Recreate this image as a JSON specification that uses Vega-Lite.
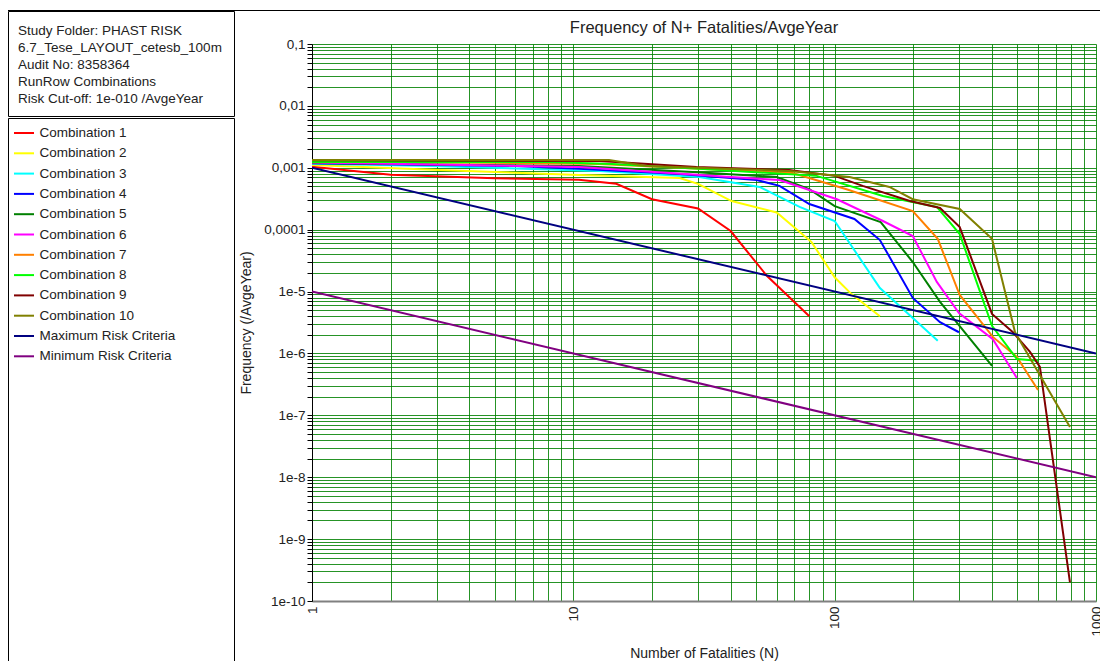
{
  "$schema": "https://vega.github.io/schema/vega-lite/v6.json",
  "padding": {"left": 7, "top": 10, "right": 0, "bottom": 0},
  "config": {
    "font": "Liberation Sans",
    "view": {"stroke": null}
  },
  "datasets": {
    "fn": [
      {"s": "Combination 1", "n": 1, "f": 1.04e-3},
      {"s": "Combination 1", "n": 2, "f": 7.7e-4},
      {"s": "Combination 1", "n": 5, "f": 6.8e-4},
      {"s": "Combination 1", "n": 10.5, "f": 6.4e-4},
      {"s": "Combination 1", "n": 14.6, "f": 5.5e-4},
      {"s": "Combination 1", "n": 20, "f": 3.1e-4},
      {"s": "Combination 1", "n": 30, "f": 2.2e-4},
      {"s": "Combination 1", "n": 40, "f": 9.5e-5},
      {"s": "Combination 1", "n": 55, "f": 1.8e-5},
      {"s": "Combination 1", "n": 80, "f": 4.0e-6},
      {"s": "Combination 2", "n": 1, "f": 1.11e-3},
      {"s": "Combination 2", "n": 3.07, "f": 9.2e-4},
      {"s": "Combination 2", "n": 10.5, "f": 7.65e-4},
      {"s": "Combination 2", "n": 25.5, "f": 6.85e-4},
      {"s": "Combination 2", "n": 30, "f": 5.5e-4},
      {"s": "Combination 2", "n": 40.3, "f": 2.9e-4},
      {"s": "Combination 2", "n": 60, "f": 1.9e-4},
      {"s": "Combination 2", "n": 81.6, "f": 6.3e-5},
      {"s": "Combination 2", "n": 100, "f": 1.7e-5},
      {"s": "Combination 2", "n": 116, "f": 9.1e-6},
      {"s": "Combination 2", "n": 149, "f": 4.0e-6},
      {"s": "Combination 3", "n": 1, "f": 1.16e-3},
      {"s": "Combination 3", "n": 2.88, "f": 1.07e-3},
      {"s": "Combination 3", "n": 12.6, "f": 8.9e-4},
      {"s": "Combination 3", "n": 30.3, "f": 7.1e-4},
      {"s": "Combination 3", "n": 51.6, "f": 4.9e-4},
      {"s": "Combination 3", "n": 73.4, "f": 2.33e-4},
      {"s": "Combination 3", "n": 100, "f": 1.38e-4},
      {"s": "Combination 3", "n": 149, "f": 1.14e-5},
      {"s": "Combination 3", "n": 248, "f": 1.6e-6},
      {"s": "Combination 4", "n": 1, "f": 1.18e-3},
      {"s": "Combination 4", "n": 6.05, "f": 1.07e-3},
      {"s": "Combination 4", "n": 10.5, "f": 9.6e-4},
      {"s": "Combination 4", "n": 25.5, "f": 7.9e-4},
      {"s": "Combination 4", "n": 50.3, "f": 6.35e-4},
      {"s": "Combination 4", "n": 61.5, "f": 5.1e-4},
      {"s": "Combination 4", "n": 80, "f": 2.6e-4},
      {"s": "Combination 4", "n": 119, "f": 1.49e-4},
      {"s": "Combination 4", "n": 149, "f": 6.8e-5},
      {"s": "Combination 4", "n": 199, "f": 7.9e-6},
      {"s": "Combination 4", "n": 253, "f": 3.2e-6},
      {"s": "Combination 4", "n": 299, "f": 2.2e-6},
      {"s": "Combination 5", "n": 1, "f": 1.2e-3},
      {"s": "Combination 5", "n": 10.5, "f": 1.07e-3},
      {"s": "Combination 5", "n": 28.6, "f": 8.55e-4},
      {"s": "Combination 5", "n": 60, "f": 7.1e-4},
      {"s": "Combination 5", "n": 80, "f": 4.5e-4},
      {"s": "Combination 5", "n": 100, "f": 2.4e-4},
      {"s": "Combination 5", "n": 150, "f": 1.33e-4},
      {"s": "Combination 5", "n": 199, "f": 3.0e-5},
      {"s": "Combination 5", "n": 253, "f": 6.8e-6},
      {"s": "Combination 5", "n": 400, "f": 6.3e-7},
      {"s": "Combination 6", "n": 1, "f": 1.22e-3},
      {"s": "Combination 6", "n": 10.5, "f": 1.03e-3},
      {"s": "Combination 6", "n": 40, "f": 7.1e-4},
      {"s": "Combination 6", "n": 61.5, "f": 6.35e-4},
      {"s": "Combination 6", "n": 102, "f": 3.1e-4},
      {"s": "Combination 6", "n": 153, "f": 1.38e-4},
      {"s": "Combination 6", "n": 199, "f": 7.9e-5},
      {"s": "Combination 6", "n": 246, "f": 1.43e-5},
      {"s": "Combination 6", "n": 299, "f": 4.5e-6},
      {"s": "Combination 6", "n": 403, "f": 1.7e-6},
      {"s": "Combination 6", "n": 498, "f": 4.0e-7},
      {"s": "Combination 7", "n": 1, "f": 1.29e-3},
      {"s": "Combination 7", "n": 12.6, "f": 1.15e-3},
      {"s": "Combination 7", "n": 69, "f": 8.25e-4},
      {"s": "Combination 7", "n": 111, "f": 4.5e-4},
      {"s": "Combination 7", "n": 199, "f": 2.0e-4},
      {"s": "Combination 7", "n": 248, "f": 7.1e-5},
      {"s": "Combination 7", "n": 301, "f": 8.8e-6},
      {"s": "Combination 7", "n": 403, "f": 1.85e-6},
      {"s": "Combination 7", "n": 498, "f": 8.8e-7},
      {"s": "Combination 7", "n": 600, "f": 2.57e-7},
      {"s": "Combination 8", "n": 1, "f": 1.24e-3},
      {"s": "Combination 8", "n": 7.95, "f": 1.24e-3},
      {"s": "Combination 8", "n": 14.1, "f": 1.15e-3},
      {"s": "Combination 8", "n": 30.3, "f": 9.6e-4},
      {"s": "Combination 8", "n": 85.3, "f": 7.4e-4},
      {"s": "Combination 8", "n": 153, "f": 3.5e-4},
      {"s": "Combination 8", "n": 246, "f": 2.33e-4},
      {"s": "Combination 8", "n": 301, "f": 8.5e-5},
      {"s": "Combination 8", "n": 400, "f": 2.8e-6},
      {"s": "Combination 8", "n": 498, "f": 8.1e-7},
      {"s": "Combination 8", "n": 600, "f": 7.6e-7},
      {"s": "Combination 9", "n": 1, "f": 1.32e-3},
      {"s": "Combination 9", "n": 12.6, "f": 1.29e-3},
      {"s": "Combination 9", "n": 29.6, "f": 1.03e-3},
      {"s": "Combination 9", "n": 67, "f": 9.2e-4},
      {"s": "Combination 9", "n": 100, "f": 7.4e-4},
      {"s": "Combination 9", "n": 128, "f": 5.1e-4},
      {"s": "Combination 9", "n": 194, "f": 2.9e-4},
      {"s": "Combination 9", "n": 253, "f": 2.24e-4},
      {"s": "Combination 9", "n": 301, "f": 1.1e-4},
      {"s": "Combination 9", "n": 400, "f": 4.35e-6},
      {"s": "Combination 9", "n": 481, "f": 2.2e-6},
      {"s": "Combination 9", "n": 559, "f": 1.06e-6},
      {"s": "Combination 9", "n": 610, "f": 6.05e-7},
      {"s": "Combination 9", "n": 795, "f": 2.0e-10},
      {"s": "Combination 10", "n": 1, "f": 1.34e-3},
      {"s": "Combination 10", "n": 13.7, "f": 1.34e-3},
      {"s": "Combination 10", "n": 19, "f": 1.07e-3},
      {"s": "Combination 10", "n": 29.6, "f": 1.0e-3},
      {"s": "Combination 10", "n": 67, "f": 8.9e-4},
      {"s": "Combination 10", "n": 114, "f": 7.1e-4},
      {"s": "Combination 10", "n": 162, "f": 4.9e-4},
      {"s": "Combination 10", "n": 199, "f": 3.1e-4},
      {"s": "Combination 10", "n": 301, "f": 2.16e-4},
      {"s": "Combination 10", "n": 400, "f": 7.1e-5},
      {"s": "Combination 10", "n": 490, "f": 2.2e-6},
      {"s": "Combination 10", "n": 795, "f": 6.5e-8},
      {"s": "Maximum Risk Criteria", "n": 1, "f": 1e-3},
      {"s": "Maximum Risk Criteria", "n": 1000, "f": 1e-6},
      {"s": "Minimum Risk Criteria", "n": 1, "f": 1e-5},
      {"s": "Minimum Risk Criteria", "n": 1000, "f": 1e-8}
    ]
  },
  "spacing": -1,
  "vconcat": [
    {
      "width": 1093,
      "height": 1,
      "view": {"fill": "black", "stroke": null},
      "data": {"values": []},
      "mark": "point"
    },
    {
      "spacing": 4,
      "hconcat": [
        {
          "spacing": 0,
          "vconcat": [
            {
              "width": 226,
              "height": 105,
              "view": {"stroke": "black", "strokeWidth": 1},
              "data": {"values": [
                {"i": 1, "t": "Study Folder: PHAST RISK"},
                {"i": 2, "t": "6.7_Tese_LAYOUT_cetesb_100m"},
                {"i": 3, "t": "Audit No: 8358364"},
                {"i": 4, "t": "RunRow Combinations"},
                {"i": 5, "t": "Risk Cut-off: 1e-010 /AvgeYear"}
              ]},
              "mark": {"type": "text", "align": "left", "baseline": "middle", "fontSize": 13.5, "color": "#222"},
              "encoding": {
                "y": {"field": "i", "type": "ordinal", "axis": null, "scale": {"type": "point", "padding": 0, "range": [20, 88]}},
                "x": {"value": 10},
                "text": {"field": "t"}
              }
            },
            {
              "width": 226,
              "height": 546,
              "view": {"stroke": "black", "strokeWidth": 1},
              "data": {"values": []},
              "mark": "point"
            }
          ]
        },
        {
          "spacing": 7,
          "vconcat": [
            {
              "width": 784,
              "height": 1,
              "data": {"values": []},
              "mark": "point"
            },
            {
              "width": 784,
              "height": 557,
              "title": {"text": "Frequency of N+ Fatalities/AvgeYear", "fontSize": 16.5, "fontWeight": "normal", "color": "#222", "offset": 1, "anchor": "middle"},
              "data": {"name": "fn"},
              "mark": {"type": "line", "strokeWidth": 2, "clip": true},
              "encoding": {
                "x": {
                  "field": "n", "type": "quantitative",
                  "scale": {"type": "log", "domain": [1, 1000], "nice": false},
                  "axis": {
                    "values": [1,2,3,4,5,6,7,8,9,10,20,30,40,50,60,70,80,90,100,200,300,400,500,600,700,800,900,1000],
                    "labelExpr": "indexof([1,10,100,1000], datum.value) >= 0 ? format(datum.value, 'd') : ''",
                    "labelAngle": -90,
                    "labelFlush": false,
                    "labelOverlap": false,
                    "labelFontSize": 13.5,
                    "labelColor": "#222",
                    "labelPadding": 5,
                    "ticks": false,
                    "grid": true,
                    "gridColor": "#008000",
                    "gridOpacity": 0.85,
                    "gridWidth": 1,
                    "domainColor": "#808080",
                    "domainWidth": 2,
                    "title": "Number of Fatalities (N)",
                    "titleFontSize": 14,
                    "titleFontWeight": "normal",
                    "titleColor": "#222",
                    "titlePadding": 10
                  }
                },
                "y": {
                  "field": "f", "type": "quantitative",
                  "scale": {"type": "log", "domain": [1e-10, 0.1], "nice": false},
                  "axis": {
                    "values": [1e-10,2e-10,3e-10,4e-10,5e-10,6e-10,7e-10,8e-10,9e-10,
                               1e-9,2e-9,3e-9,4e-9,5e-9,6e-9,7e-9,8e-9,9e-9,
                               1e-8,2e-8,3e-8,4e-8,5e-8,6e-8,7e-8,8e-8,9e-8,
                               1e-7,2e-7,3e-7,4e-7,5e-7,6e-7,7e-7,8e-7,9e-7,
                               1e-6,2e-6,3e-6,4e-6,5e-6,6e-6,7e-6,8e-6,9e-6,
                               1e-5,2e-5,3e-5,4e-5,5e-5,6e-5,7e-5,8e-5,9e-5,
                               1e-4,2e-4,3e-4,4e-4,5e-4,6e-4,7e-4,8e-4,9e-4,
                               1e-3,2e-3,3e-3,4e-3,5e-3,6e-3,7e-3,8e-3,9e-3,
                               1e-2,2e-2,3e-2,4e-2,5e-2,6e-2,7e-2,8e-2,9e-2,0.1],
                    "labelExpr": "abs(datum.value / pow(10, round(log(datum.value) / LN10)) - 1) > 0.01 ? '' : (round(log(datum.value) / LN10) == -1 ? '0,1' : round(log(datum.value) / LN10) == -2 ? '0,01' : round(log(datum.value) / LN10) == -3 ? '0,001' : round(log(datum.value) / LN10) == -4 ? '0,0001' : '1e' + round(log(datum.value) / LN10))",
                    "labelFlush": false,
                    "labelOverlap": false,
                    "labelFontSize": 13.5,
                    "labelColor": "#222",
                    "labelPadding": 2,
                    "tickSize": 5,
                    "tickColor": "#000",
                    "grid": true,
                    "gridColor": "#008000",
                    "gridOpacity": 0.85,
                    "gridWidth": 1,
                    "domainColor": "#000",
                    "domainWidth": 1,
                    "title": "Frequency (/AvgeYear)",
                    "titleFontSize": 14,
                    "titleFontWeight": "normal",
                    "titleColor": "#222",
                    "titlePadding": 10
                  }
                },
                "color": {
                  "field": "s", "type": "nominal",
                  "scale": {
                    "domain": ["Combination 1","Combination 2","Combination 3","Combination 4","Combination 5","Combination 6","Combination 7","Combination 8","Combination 9","Combination 10","Maximum Risk Criteria","Minimum Risk Criteria"],
                    "range": ["#FF0000","#FFFF00","#00FFFF","#0000FF","#008000","#FF00FF","#FF8000","#00FF00","#800000","#808000","#000080","#800080"]
                  },
                  "legend": {
                    "orient": "none",
                    "legendX": 5,
                    "legendY": 112,
                    "title": null,
                    "symbolType": "stroke",
                    "symbolSize": 400,
                    "symbolStrokeWidth": 2,
                    "labelFontSize": 13.5,
                    "labelColor": "#222",
                    "labelOffset": 4.5,
                    "rowPadding": 2.3,
                    "padding": 0
                  }
                }
              }
            }
          ]
        }
      ]
    }
  ]
}
